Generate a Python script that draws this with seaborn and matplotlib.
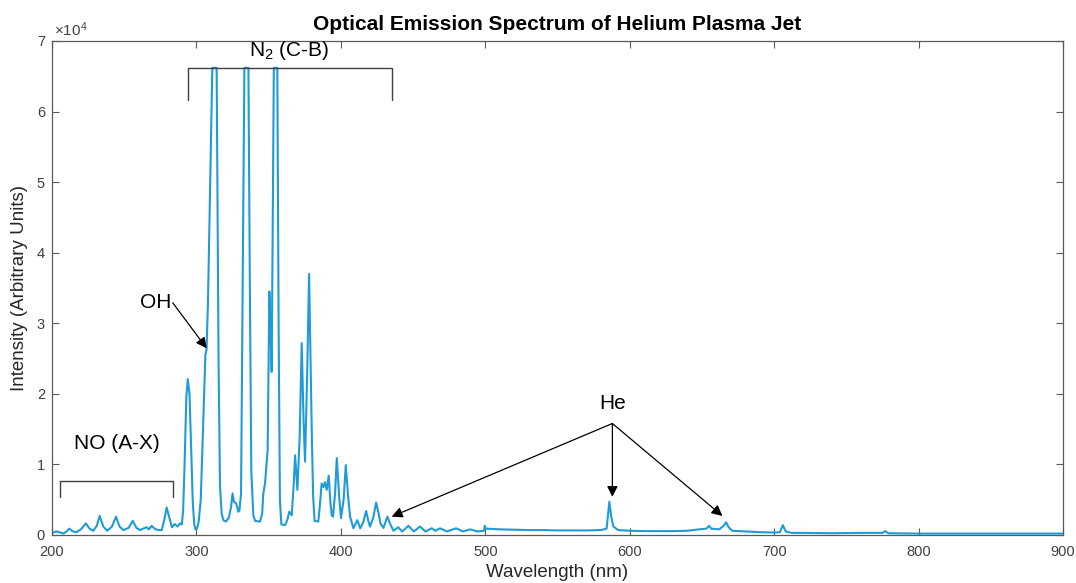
import numpy as np
import pandas as pd
import matplotlib
matplotlib.use("Agg")
import matplotlib.pyplot as plt
import seaborn as sns

# ---------------- data ----------------
wavelength = [
    200, 203, 205, 208, 210, 212, 214.5, 217, 220, 223.5, 226, 228.6, 231, 233, 235.5,
    238.3, 241.5, 244.3, 246.8, 249.4, 253, 255.9, 258.5, 261, 263, 265.5, 267, 269, 271,
    273.5, 276, 277.8, 279.4, 281.2, 283, 285, 287, 288.6, 289.9, 290.8, 291.8, 293.0, 294.0,
    295.2, 296.4, 297.5, 298.5, 299.3, 300.3, 301.5, 303, 305, 306.2, 307.0, 308.0, 309.4, 311.0, 314.0,
    315.3, 316.3, 317.5, 318.6, 320.5, 322.5, 324, 325, 326, 327.4, 328.2, 329, 329.8, 330.9,
    331.8, 333.2, 336.0, 337.0, 338.0, 339.4, 340.6, 344, 345.5, 346.3, 347.5, 349.3, 350.5,
    351.2, 352.1, 353.6, 356.0, 356.9, 357.8, 358.8, 361.4, 363.0, 364.3, 366, 367.3, 368.3,
    369.9, 371.5, 372.9, 374.2, 375.2, 376.6, 378.0, 379.8, 380.8, 381.8, 384.4, 385.6, 386.7,
    388.0, 389.0, 390.2, 391.6, 392.8, 393.7, 394.6, 396.0, 397.2, 398.8, 400.1, 401.9,
    403.4, 405.0, 406.4, 408.7, 410.0, 411.4, 413.4, 415.5, 417.5, 419.0, 420.2, 422.5,
    424.4, 426.0, 427.5, 429.5, 432.2, 434.5, 436.5, 439.6, 442.5, 446.8, 450.5, 454.8,
    458.5, 462.9, 465.5, 468.7, 473.5, 479.8, 484.5, 489.5, 494.5, 499.2, 499.6, 500.5,
    510, 520, 530, 540, 550, 560, 570, 580, 584, 585.9, 587.2, 588.7, 592, 600, 610, 620,
    630, 640, 648, 653, 655, 656.5, 662, 665, 666.8, 668.5, 671, 680, 690, 700, 704, 706,
    708, 712, 720, 740, 760, 775, 776.9, 779, 800, 850, 900,
]
intensity = [
    300, 500, 400, 200, 500, 900, 500, 400, 800, 1650, 900, 600, 1300, 2700, 1200,
    600, 1200, 2600, 1200, 700, 1000, 2000, 1000, 700, 900, 1100, 800, 1300, 900,
    700, 700, 2200, 3900, 2500, 1100, 1550, 1200, 1650, 1500, 3500, 10000, 19500, 22100,
    20000, 12000, 4500, 1500, 800, 900, 1800, 5000, 18000, 25500, 26300, 33000, 48400, 66200, 66200,
    25000, 7000, 3000, 2100, 1900, 2500, 4000, 5900, 4700, 4500, 4000, 3300, 3500, 5900,
    29500, 66200, 66200, 35000, 9000, 2800, 2000, 1900, 3000, 5900, 7300, 12000, 34500,
    30000, 23100, 66200, 66200, 30000, 5000, 1500, 1400, 2200, 3300, 2800, 7000, 11300,
    6400, 14000, 27200, 16000, 10400, 22000, 37000, 15300, 5500, 2000, 1900, 4500, 7300,
    6800, 7500, 6400, 8400, 4500, 2800, 2600, 6000, 10900, 5500, 2400, 5000,
    9900, 5500, 2600, 950, 1500, 2100, 950, 1800, 3400, 2000, 1200, 2500,
    4600, 3200, 1600, 1000, 2600, 1400, 600, 1100, 500, 1300, 500, 1200,
    500, 950, 600, 950, 500, 950, 500, 800, 500, 600, 1300, 900,
    800, 750, 700, 700, 650, 650, 650, 700, 900, 4700, 2600, 1200, 700, 600, 550, 550,
    550, 600, 800, 900, 1300, 900, 800, 1300, 1800, 1100, 600, 500, 400, 350, 400, 1400,
    500, 300, 300, 250, 300, 300, 550, 250, 200, 200, 200,
]
x_ticks = [200, 300, 400, 500, 600, 700, 800, 900]
y_ticks = [0, 10000, 20000, 30000, 40000, 50000, 60000, 70000]
y_tick_labels = ["0", "1", "2", "3", "4", "5", "6", "7"]

title = "Optical Emission Spectrum of Helium Plasma Jet"
x_label = "Wavelength (nm)"
y_label = "Intensity (Arbitrary Units)"

# ---------------- style ----------------
sns.set_theme(style="ticks")
plt.rcParams["font.family"] = ["Liberation Sans", "DejaVu Sans"]
plt.rcParams["mathtext.default"] = "regular"

line_color = "#1f9bd7"
axis_color = "#5a5a5a"
text_gray = "#404040"

fig = plt.figure(figsize=(10.76, 5.83), dpi=100)
ax = fig.add_axes([52 / 1076, 1 - 535 / 583, (1063 - 52) / 1076, (535 - 41) / 583])

df = pd.DataFrame({"wavelength": wavelength, "intensity": intensity})
sns.lineplot(data=df, x="wavelength", y="intensity", ax=ax, color=line_color,
             linewidth=1.5, estimator=None, sort=False)

ax.set_xlim(200, 900)
ax.set_ylim(0, 70000)
ax.set_xticks(x_ticks)
ax.set_xticklabels([str(v) for v in x_ticks])
ax.set_yticks(y_ticks)
ax.set_yticklabels(y_tick_labels)
ax.tick_params(direction="in", top=True, right=True, length=5, width=0.8,
               colors=axis_color, labelcolor=text_gray, labelsize=10.5)
ax.tick_params(axis="x", pad=7)
ax.tick_params(axis="y", pad=5)
for s in ax.spines.values():
    s.set_visible(True)
    s.set_color(axis_color)
    s.set_linewidth(0.9)

ax.set_xlabel(x_label, fontsize=13.5, color="#262626", labelpad=4)
ax.set_ylabel(y_label, fontsize=13.5, color="#262626", labelpad=6)
ax.set_title(title, fontsize=15, fontweight="bold", color="black", pad=8)
ax.text(0.002, 1.004, r"$\times10^4$", transform=ax.transAxes, fontsize=11,
        color=text_gray, ha="left", va="bottom")

# ---------------- annotations ----------------
bracket_kw = dict(color="#404040", linewidth=1.0)
# N2 (C-B) bracket
ax.plot([294.2, 294.2, 435.5, 435.5], [61600, 66150, 66150, 61600], **bracket_kw)
ax.text(364.5, 67000, r"N$_2$ (C-B)", ha="center", va="bottom", fontsize=15, color="black")
# NO (A-X) bracket
ax.plot([205.5, 205.5, 284.0, 284.0], [5380, 7650, 7650, 5380], **bracket_kw)
ax.text(245, 13000, "NO (A-X)", ha="center", va="center", fontsize=15, color="black")

arrow_kw = dict(arrowstyle="-|>", color="black", lw=0.9, mutation_scale=16,
                shrinkA=0, shrinkB=0)
# OH
ax.text(282.5, 33000, "OH", ha="right", va="center", fontsize=15, color="black")
ax.annotate("", xy=(307.1, 26450), xytext=(283.6, 32900), arrowprops=arrow_kw)
# He
ax.text(588, 18600, "He", ha="center", va="center", fontsize=15, color="black")
for tip in [(435.2, 2600), (588.0, 5400), (664.2, 2700)]:
    ax.annotate("", xy=tip, xytext=(588, 15800), arrowprops=arrow_kw)

fig.savefig("out.png", dpi=100)
